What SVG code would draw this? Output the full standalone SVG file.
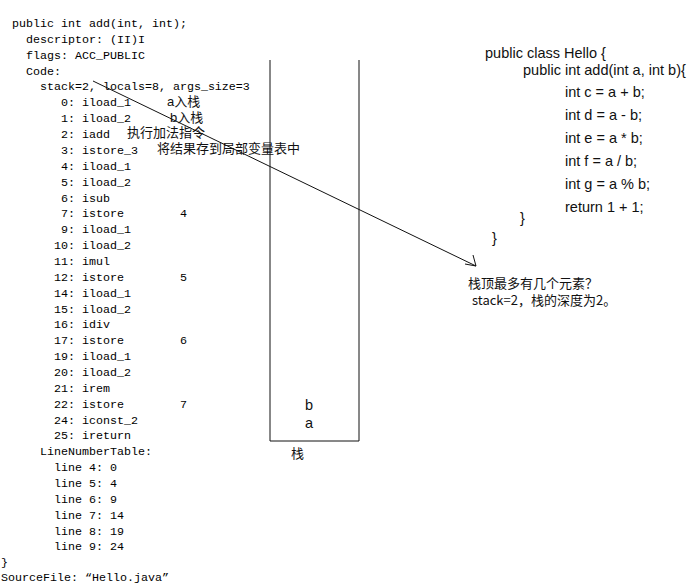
<svg xmlns="http://www.w3.org/2000/svg" width="692" height="585" viewBox="0 0 692 585">
<style>
.mono{font-family:"Liberation Mono","DejaVu Sans Mono",monospace;font-size:11.67px;fill:#000}
.java{font-family:"Liberation Sans",Arial,sans-serif;font-size:14.5px;fill:#111}
.cn{font-family:"Liberation Sans","Noto Sans CJK SC",sans-serif;font-size:13px;fill:#111}
.ln{stroke:#111;stroke-width:1;fill:none}
</style>
<rect width="692" height="585" fill="#fff"/>
<g id="bytecode" class="mono" xml:space="preserve">
<text x="12" y="27">public int add(int, int);</text>
<text x="26" y="42.9">descriptor: (II)I</text>
<text x="26" y="58.7">flags: ACC_PUBLIC</text>
<text x="26" y="74.6">Code:</text>
<text x="40" y="90.4">stack=2, locals=8, args_size=3</text>
<text x="61" y="106.3">0: iload_1</text>
<text x="61" y="122.2">1: iload_2</text>
<text x="61" y="138">2: iadd</text>
<text x="61" y="153.9">3: istore_3</text>
<text x="61" y="169.7">4: iload_1</text>
<text x="61" y="185.6">5: iload_2</text>
<text x="61" y="201.5">6: isub</text>
<text x="61" y="217.3">7: istore</text>
<text x="180" y="217.3">4</text>
<text x="61" y="233.2">9: iload_1</text>
<text x="54" y="249">10: iload_2</text>
<text x="54" y="264.9">11: imul</text>
<text x="54" y="280.8">12: istore</text>
<text x="180" y="280.8">5</text>
<text x="54" y="296.6">14: iload_1</text>
<text x="54" y="312.5">15: iload_2</text>
<text x="54" y="328.3">16: idiv</text>
<text x="54" y="344.2">17: istore</text>
<text x="180" y="344.2">6</text>
<text x="54" y="360">19: iload_1</text>
<text x="54" y="375.9">20: iload_2</text>
<text x="54" y="391.8">21: irem</text>
<text x="54" y="407.6">22: istore</text>
<text x="180" y="407.6">7</text>
<text x="54" y="423.5">24: iconst_2</text>
<text x="54" y="439.4">25: ireturn</text>
<text x="40" y="455.2">LineNumberTable:</text>
<text x="54" y="471">line 4: 0</text>
<text x="54" y="487">line 5: 4</text>
<text x="54" y="502.8">line 6: 9</text>
<text x="54" y="518.6">line 7: 14</text>
<text x="54" y="534.5">line 8: 19</text>
<text x="54" y="550.4">line 9: 24</text>
<text x="1" y="566.2">}</text>
<text x="1" y="581">SourceFile: “Hello.java”</text>
</g>
<g id="annotations" class="cn">
<text x="167" y="106">a入栈</text>
<text x="170" y="122">b入栈</text>
<text x="127" y="137">执行加法指令</text>
<text x="157" y="153">将结果存到局部变量表中</text>
</g>
<g id="stack">
<path class="ln" d="M270 60 V441 H359 V60"/>
<text class="java" x="305" y="410" font-size="14px">b</text>
<text class="java" x="305" y="428" font-size="14px">a</text>
<text class="cn" x="291" y="458">栈</text>
</g>
<g id="java-source" class="java">
<text x="485" y="58">public class Hello {</text>
<text x="523" y="75">public int add(int a, int b){</text>
<text x="565" y="97">int c = a + b;</text>
<text x="565" y="120">int d = a - b;</text>
<text x="565" y="143">int e = a * b;</text>
<text x="565" y="166">int f = a / b;</text>
<text x="565" y="189">int g = a % b;</text>
<text x="565" y="212">return 1 + 1;</text>
<text x="520" y="223">}</text>
<text x="492" y="243">}</text>
</g>
<g id="note" style="font-family:'Noto Sans CJK SC','Liberation Sans',sans-serif;font-size:13px;fill:#111">
<text x="468" y="288">栈顶最多有几个元素？</text>
<text x="472" y="305">stack=2，栈的深度为2。</text>
</g>
<g id="connectors">
<path class="ln" d="M93 81 L476 266 M473 255 L476 266 L465 264"/>
</g>
</svg>
